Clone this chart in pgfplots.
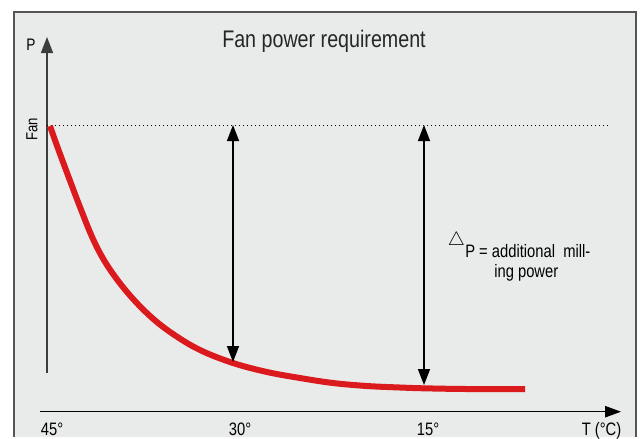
\documentclass[border=0pt]{standalone}
\usepackage{fontspec}
\setmainfont{Liberation Sans}[FakeStretch=0.82]
\usepackage{pgfplots}
\pgfplotsset{compat=1.18}
\usetikzlibrary{arrows.meta}
\definecolor{bgbox}{RGB}{233,234,234}
\definecolor{boxedge}{RGB}{85,85,85}
\definecolor{curvered}{RGB}{218,26,29}
\definecolor{axgray}{RGB}{60,60,60}
\begin{document}
\begin{tikzpicture}
\begin{axis}[
  scale only axis, width=480.75pt, height=327.75pt,
  xmin=0, xmax=641, ymin=0, ymax=437, y dir=reverse,
  axis lines=none, clip=false,
]
% background and frame
\fill[white] (axis cs:0,0) rectangle (axis cs:641,437);
\fill[bgbox] (axis cs:14,12) rectangle (axis cs:636,437);
\draw[boxedge, line width=1.1pt] (axis cs:14,437) -- (axis cs:14,12) -- (axis cs:636,12) -- (axis cs:636,437);
% axes
\draw[axgray, line width=1.1pt, -{Triangle[width=9pt,length=12pt]}] (axis cs:47,373) -- (axis cs:47,37);
\draw[black, line width=1.1pt, -{Triangle[width=8.5pt,length=12pt]}] (axis cs:40,411.7) -- (axis cs:621,411.7);
% dotted reference line
\draw[black, line width=0.75pt, dash pattern=on 0.75pt off 2.25pt] (axis cs:47,125) -- (axis cs:608,125);
% curve
\addplot[curvered, line width=4.5pt, smooth, tension=0.6] coordinates {
(50,126) (56,143) (63,162) (72,186) (80,207) (93,239) (107,265) (127,292)
(150,316) (173,334) (200,350) (233,363) (267,372) (300,378) (333,383)
(367,386) (400,387.5) (424,388.3) (467,389) (525,389)
};
% double arrows
\draw[black, line width=1.1pt, {Triangle[width=9pt,length=12pt]}-{Triangle[width=9pt,length=12pt]}] (axis cs:233,125) -- (axis cs:233,362);
\draw[black, line width=1.1pt, {Triangle[width=9pt,length=12pt]}-{Triangle[width=9pt,length=12pt]}] (axis cs:424,125) -- (axis cs:424,385);
% texts
\node[anchor=base, inner sep=0pt, font=\fontsize{18pt}{20pt}\selectfont, text=black!85] at (axis cs:324,47) {Fan power requirement};
\node[anchor=base, inner sep=0pt, font=\fontsize{12.5pt}{14pt}\selectfont] at (axis cs:31,50) {P};
\node[rotate=90, inner sep=0pt, font=\fontsize{12pt}{14pt}\selectfont] at (axis cs:32,129) {Fan};
\node[anchor=base, inner sep=0pt, font=\fontsize{13.5pt}{15pt}\selectfont] at (axis cs:52,435) {45°};
\node[anchor=base, inner sep=0pt, font=\fontsize{13.5pt}{15pt}\selectfont] at (axis cs:240,435) {30°};
\node[anchor=base, inner sep=0pt, font=\fontsize{13.5pt}{15pt}\selectfont] at (axis cs:428,435) {15°};
\node[anchor=base, inner sep=0pt, font=\fontsize{13.5pt}{15pt}\selectfont] at (axis cs:601.5,435) {T (°C)};
\node[inner sep=0pt, font=\fontsize{14pt}{16pt}\selectfont] at (axis cs:456.5,241) {$\triangle$};
\node[anchor=base west, inner sep=0pt, font=\fontsize{13.5pt}{15pt}\selectfont] at (axis cs:465,257) {P = additional\ \ mill-};
\node[anchor=base west, inner sep=0pt, font=\fontsize{13.5pt}{15pt}\selectfont] at (axis cs:494,277) {ing power};
\end{axis}
\end{tikzpicture}
\end{document}
